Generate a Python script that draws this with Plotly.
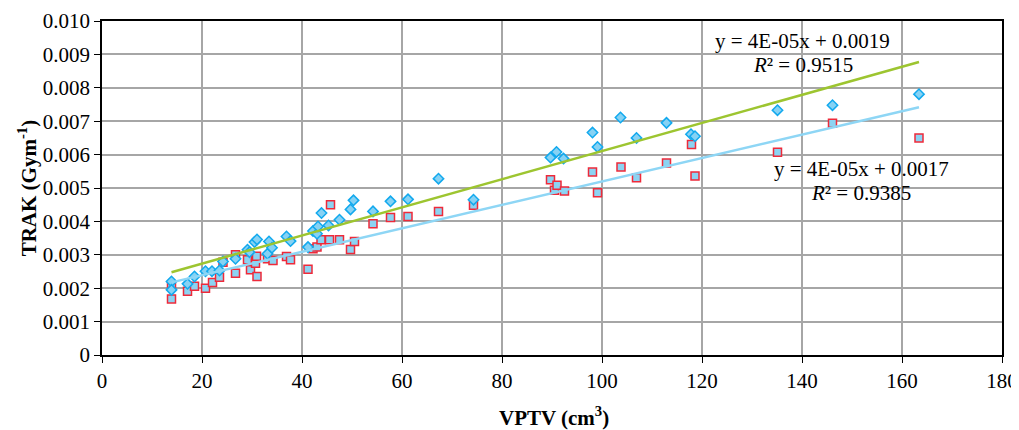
import numpy as np
import plotly.graph_objects as go

# Series 1 (diamonds)
x_d = [13.9, 13.9, 17.1, 18.5, 20.7, 22.0, 23.5, 24.2, 26.7, 29.1, 29.5, 30.5, 31.0,
       33.1, 33.4, 34.0, 36.9, 37.7, 41.2, 42.2, 43.0, 43.2, 43.9, 45.3, 47.5, 49.7,
       50.3, 54.2, 57.7, 61.2, 67.3, 74.3, 89.7, 90.9, 92.3, 98.1, 99.1, 103.7, 106.9,
       112.9, 117.8, 118.6, 135.1, 146.1, 163.4]
y_d = [0.00220, 0.00195, 0.00213, 0.00235, 0.00251, 0.00251, 0.00253, 0.00280, 0.00288,
       0.00315, 0.00308, 0.00338, 0.00346, 0.00303, 0.00340, 0.00321, 0.00355, 0.00341,
       0.00323, 0.00371, 0.00363, 0.00385, 0.00425, 0.00388, 0.00405, 0.00436, 0.00463,
       0.00430, 0.00460, 0.00466, 0.00528, 0.00465, 0.00591, 0.00608, 0.00588, 0.00666,
       0.00623, 0.00711, 0.00650, 0.00695, 0.00661, 0.00655, 0.00733, 0.00748, 0.00781]

# Series 2 (squares)
x_s = [13.9, 13.9, 17.1, 18.5, 20.7, 22.1, 23.5, 24.2, 26.7, 26.7, 29.1, 29.7, 30.7,
       30.9, 31.0, 33.1, 34.2, 36.9, 37.7, 41.2, 42.2, 43.0, 43.8, 45.5, 45.7, 47.5,
       49.7, 50.5, 54.2, 57.7, 61.2, 67.3, 74.3, 89.7, 90.5, 91.0, 92.5, 98.1, 99.1,
       103.8, 106.9, 112.9, 117.9, 118.6, 135.1, 146.1, 163.4]
y_s = [0.00206, 0.00168, 0.00191, 0.00206, 0.00200, 0.00217, 0.00233, 0.00278, 0.00300,
       0.00245, 0.00285, 0.00255, 0.00275, 0.00296, 0.00235, 0.00288, 0.00283, 0.00295,
       0.00285, 0.00257, 0.00318, 0.00323, 0.00345, 0.00345, 0.00450, 0.00345, 0.00316,
       0.00340, 0.00393, 0.00412, 0.00415, 0.00430, 0.00448, 0.00525, 0.00493, 0.00508,
       0.00491, 0.00548, 0.00486, 0.00563, 0.00531, 0.00575, 0.00630, 0.00536, 0.00607,
       0.00694, 0.00650]

x_ticks = [0, 20, 40, 60, 80, 100, 120, 140, 160, 180]
y_ticks = [0, 0.001, 0.002, 0.003, 0.004, 0.005, 0.006, 0.007, 0.008, 0.009, 0.010]
y_ticktext = ["0", "0.001", "0.002", "0.003", "0.004", "0.005", "0.006", "0.007",
              "0.008", "0.009", "0.010"]

eq_d = ["y = 4E-05x + 0.0019", "<i>R</i>² = 0.9515"]
eq_s = ["y = 4E-05x + 0.0017", "<i>R</i>² = 0.9385"]

FONT = "Liberation Serif"

fig = go.Figure()

# trendlines (least squares fit of each series)
kd, bd = np.polyfit(x_d, y_d, 1)
ks, bs = np.polyfit(x_s, y_s, 1)
xd_line = [min(x_d), max(x_d)]
xs_line = [min(x_s), max(x_s)]

fig.add_trace(go.Scatter(x=x_s, y=y_s, mode="markers", name="squares",
                         marker=dict(symbol="square", size=8, color="#8CD3F2",
                                     line=dict(color="#EE2A3A", width=1.5))))
fig.add_trace(go.Scatter(x=x_d, y=y_d, mode="markers", name="diamonds",
                         marker=dict(symbol="diamond", size=8, color="#86D2F4",
                                     line=dict(color="#12A9EE", width=1.5))))
fig.add_trace(go.Scatter(x=xd_line, y=[kd * v + bd for v in xd_line], mode="lines",
                         line=dict(color="#9DC530", width=2.5), hoverinfo="skip"))
fig.add_trace(go.Scatter(x=xs_line, y=[ks * v + bs for v in xs_line], mode="lines",
                         line=dict(color="#8ED6F5", width=2.5), hoverinfo="skip"))

ann_font = dict(family=FONT, size=21, color="black")
fig.add_annotation(x=140.1, y=0.00941, text=eq_d[0], showarrow=False, font=ann_font)
fig.add_annotation(x=140.1, y=0.00868, text=eq_d[1], showarrow=False, font=ann_font)
fig.add_annotation(x=151.8, y=0.00558, text=eq_s[0], showarrow=False, font=ann_font)
fig.add_annotation(x=151.8, y=0.00484, text=eq_s[1], showarrow=False, font=ann_font)

# axis titles placed in paper space
fig.add_annotation(xref="paper", yref="paper", x=0.502, y=-0.183, yanchor="middle",
                   text="<b>VPTV (cm<sup>3</sup>)</b>", showarrow=False,
                   font=dict(family=FONT, size=21, color="black"))
fig.add_annotation(xref="paper", yref="paper", x=-0.083, y=0.5, xanchor="center",
                   yanchor="middle", textangle=-90,
                   text="<b>TRAK (Gym<sup>-1</sup>)</b>", showarrow=False,
                   font=dict(family=FONT, size=21, color="black"))

fig.update_layout(
    width=1011, height=422,
    margin=dict(l=94, r=17, t=13, b=75, autoexpand=False),
    paper_bgcolor="white", plot_bgcolor="white",
    showlegend=False,
    font=dict(family=FONT, size=21, color="black"),
)
fig.update_xaxes(
    range=[0, 180], tickvals=x_ticks, showgrid=True, gridcolor="#A6A6A6", gridwidth=1.5,
    showline=True, linecolor="black", linewidth=1.5, mirror=True, automargin=False,
    ticks="outside", ticklen=6, tickcolor="black", zeroline=False,
    tickfont=dict(family=FONT, size=21), ticklabeloverflow="allow",
)
fig.update_yaxes(
    range=[0, 0.010], tickvals=y_ticks, ticktext=y_ticktext, showgrid=True,
    gridcolor="#A6A6A6", gridwidth=1.5, automargin=False,
    showline=True, linecolor="black", linewidth=1.5, mirror=True,
    ticks="outside", ticklen=6, tickcolor="black", zeroline=False,
    tickfont=dict(family=FONT, size=21), ticklabeloverflow="allow",
)

fig.write_html("out.html")
